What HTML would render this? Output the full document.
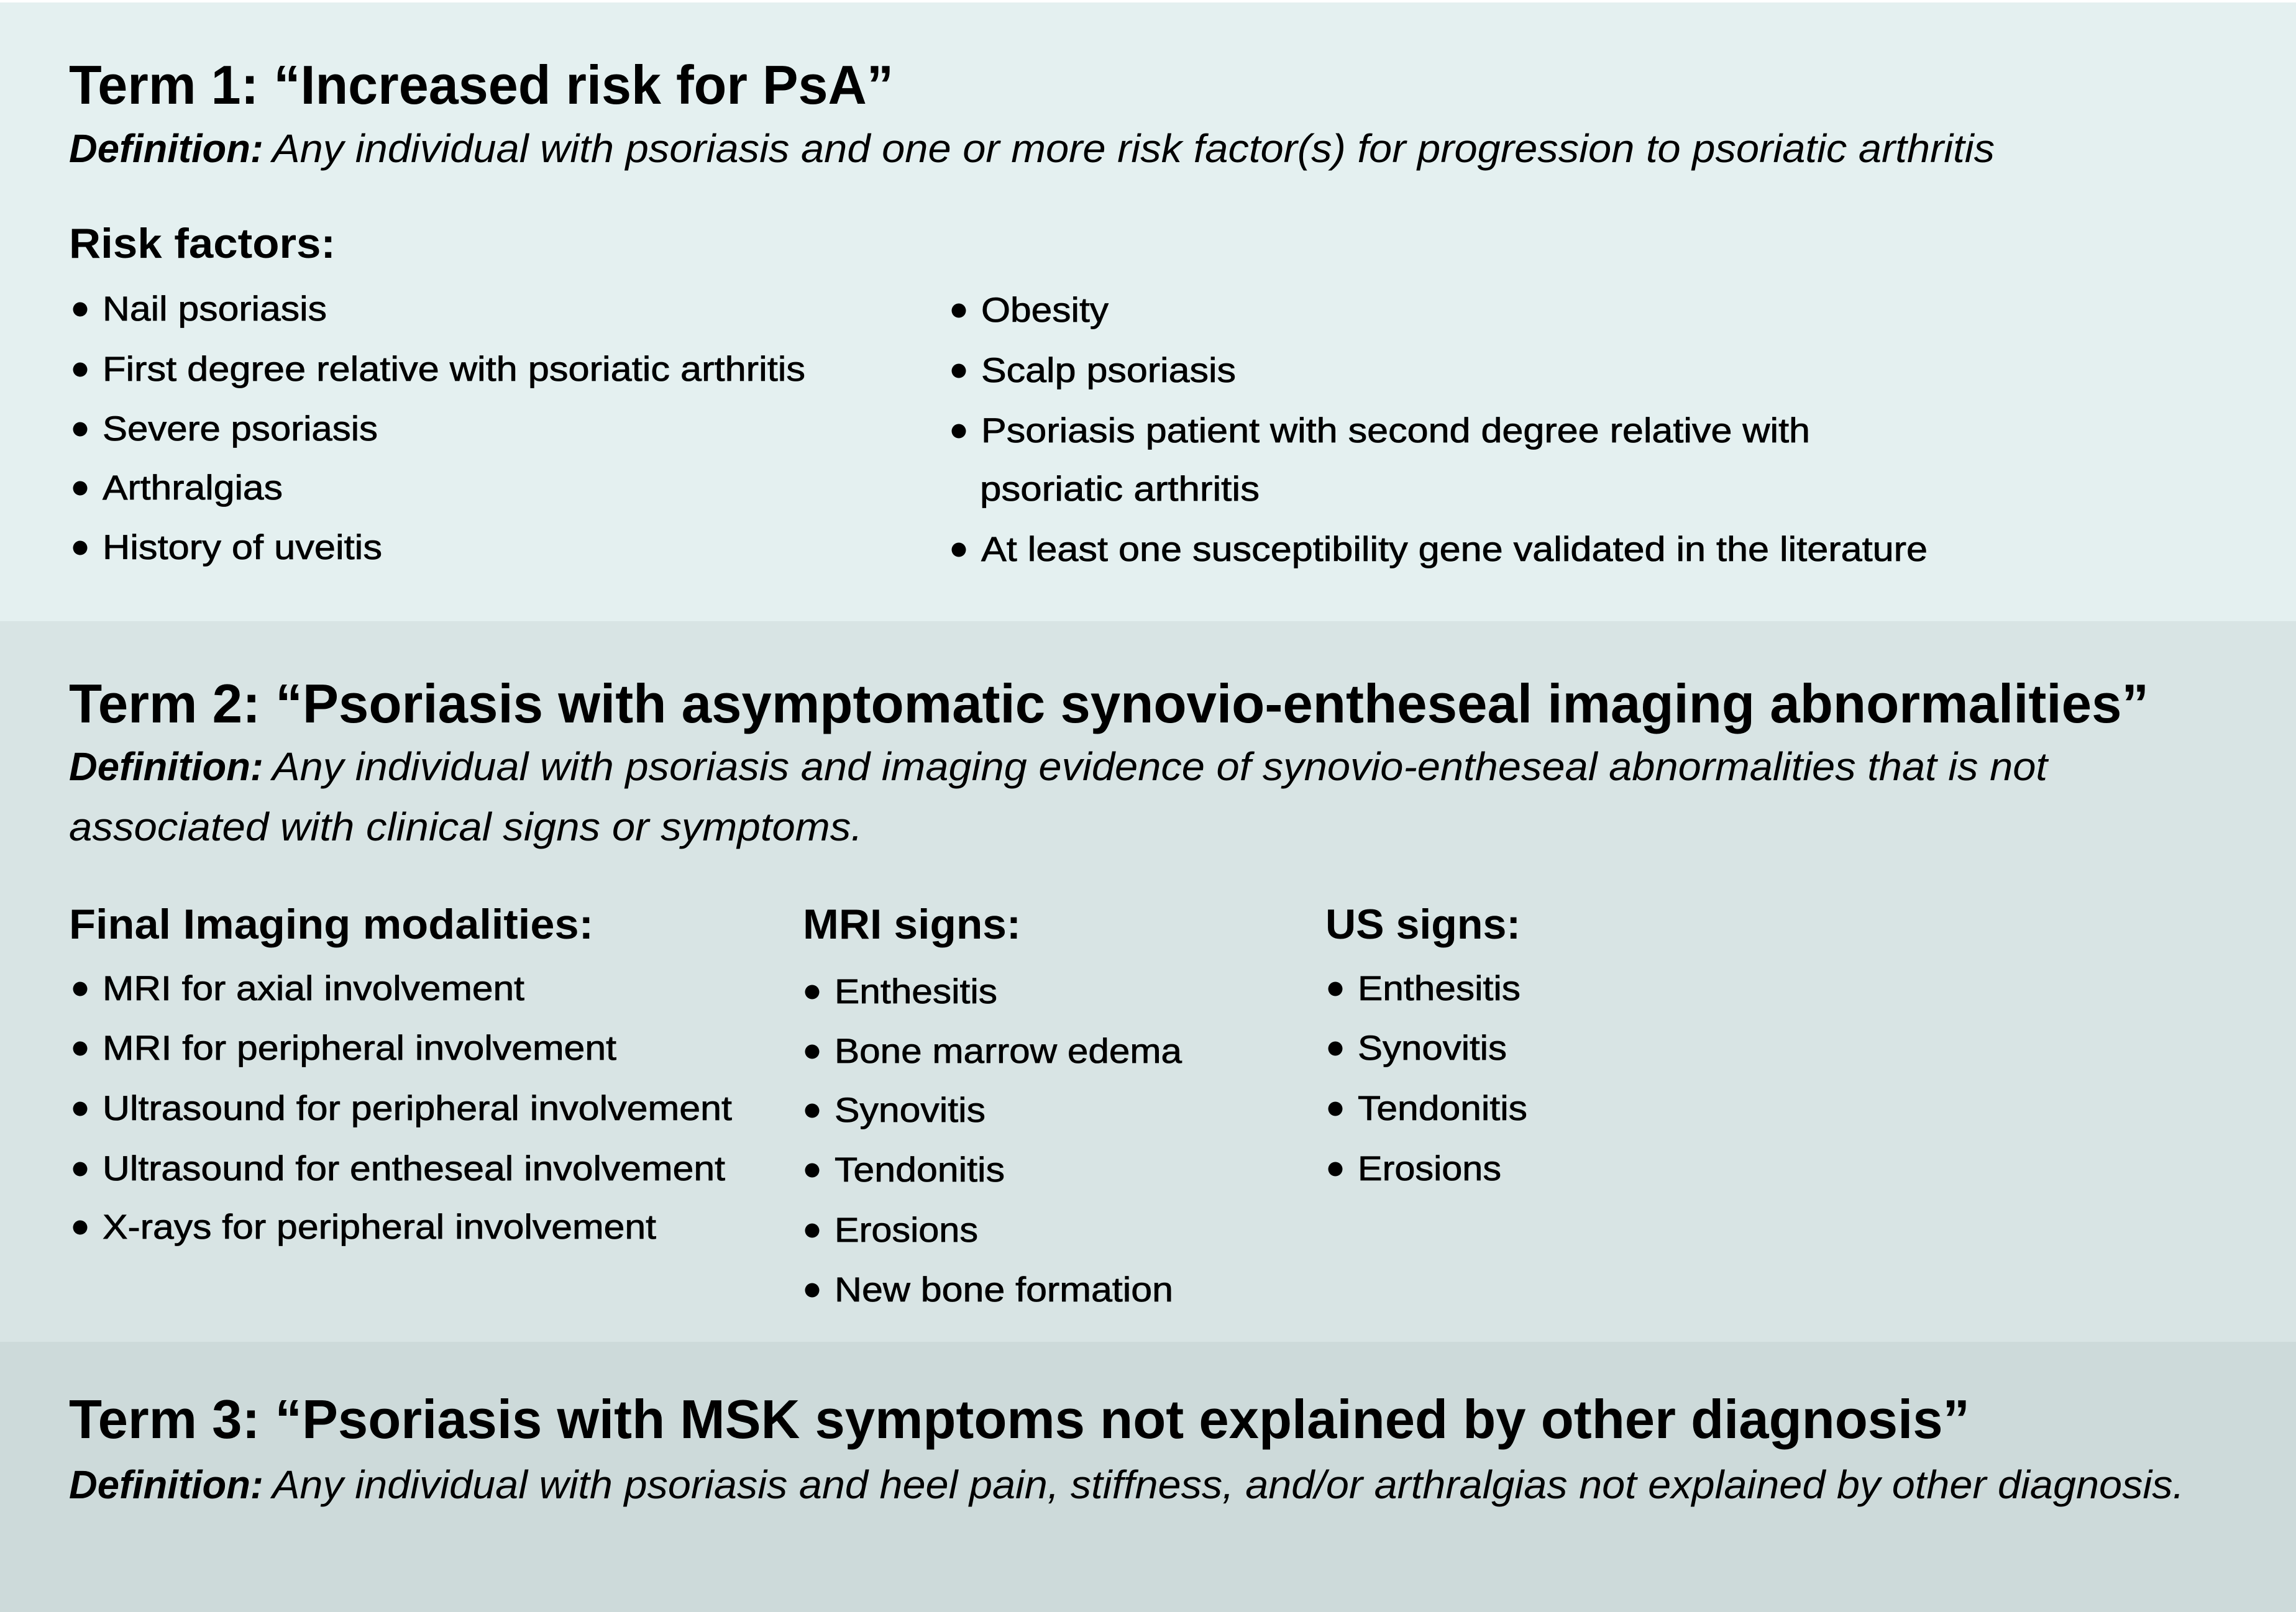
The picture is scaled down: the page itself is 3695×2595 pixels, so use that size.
<!DOCTYPE html>
<html><head><meta charset="utf-8"><style>html,body{margin:0;padding:0;background:#fff}svg{display:block}</style></head><body>
<svg xmlns="http://www.w3.org/2000/svg" width="3695" height="2595" viewBox="0 0 3695 2595" font-family="Liberation Sans, Arial, sans-serif" fill="#000">
<rect x="0" y="0" width="3695" height="2595" fill="#ffffff"/>
<rect x="0" y="4" width="3695" height="996" fill="#e4f0f0"/>
<rect x="0" y="1000" width="3695" height="1160" fill="#d8e4e4"/>
<rect x="0" y="2160" width="3695" height="435" fill="#cddada"/>
<text x="111" y="167" font-size="88" font-weight="bold" textLength="1327" lengthAdjust="spacingAndGlyphs">Term 1: “Increased risk for PsA”</text>
<text x="111" y="261" font-size="64" font-weight="bold" font-style="italic" textLength="313" lengthAdjust="spacingAndGlyphs">Definition:</text>
<text x="438" y="261" font-size="64" font-style="italic" textLength="2772" lengthAdjust="spacingAndGlyphs">Any individual with psoriasis and one or more risk factor(s) for progression to psoriatic arthritis</text>
<text x="111" y="415" font-size="68" font-weight="bold" textLength="429" lengthAdjust="spacingAndGlyphs">Risk factors:</text>
<g fill="#000">
<circle cx="129" cy="498" r="11.5"/><circle cx="129" cy="595" r="11.5"/><circle cx="129" cy="691" r="11.5"/><circle cx="129" cy="786" r="11.5"/><circle cx="129" cy="882" r="11.5"/>
<circle cx="1543" cy="500" r="11.5"/><circle cx="1543" cy="597" r="11.5"/><circle cx="1543" cy="694" r="11.5"/><circle cx="1543" cy="885" r="11.5"/>
<circle cx="129" cy="1592" r="11.5"/><circle cx="129" cy="1688" r="11.5"/><circle cx="129" cy="1785" r="11.5"/><circle cx="129" cy="1882" r="11.5"/><circle cx="129" cy="1976" r="11.5"/>
<circle cx="1307" cy="1597" r="11.5"/><circle cx="1307" cy="1693" r="11.5"/><circle cx="1307" cy="1788" r="11.5"/><circle cx="1307" cy="1884" r="11.5"/><circle cx="1307" cy="1981" r="11.5"/><circle cx="1307" cy="2077" r="11.5"/>
<circle cx="2149" cy="1592" r="11.5"/><circle cx="2149" cy="1688" r="11.5"/><circle cx="2149" cy="1785" r="11.5"/><circle cx="2149" cy="1882" r="11.5"/>
</g>
<g font-size="56" stroke="#000" stroke-width="0.8">
<text x="165" y="516" textLength="361" lengthAdjust="spacingAndGlyphs">Nail psoriasis</text>
<text x="165" y="613" textLength="1131" lengthAdjust="spacingAndGlyphs">First degree relative with psoriatic arthritis</text>
<text x="165" y="709" textLength="443" lengthAdjust="spacingAndGlyphs">Severe psoriasis</text>
<text x="165" y="804" textLength="290" lengthAdjust="spacingAndGlyphs">Arthralgias</text>
<text x="165" y="900" textLength="450" lengthAdjust="spacingAndGlyphs">History of uveitis</text>
<text x="1579" y="518" textLength="205" lengthAdjust="spacingAndGlyphs">Obesity</text>
<text x="1579" y="615" textLength="410" lengthAdjust="spacingAndGlyphs">Scalp psoriasis</text>
<text x="1579" y="712" textLength="1334" lengthAdjust="spacingAndGlyphs">Psoriasis patient with second degree relative with</text>
<text x="1577" y="806" textLength="450" lengthAdjust="spacingAndGlyphs">psoriatic arthritis</text>
<text x="1579" y="903" textLength="1523" lengthAdjust="spacingAndGlyphs">At least one susceptibility gene validated in the literature</text>
</g>
<text x="111" y="1163" font-size="88" font-weight="bold" textLength="3347" lengthAdjust="spacingAndGlyphs">Term 2: “Psoriasis with asymptomatic synovio-entheseal imaging abnormalities”</text>
<text x="111" y="1256" font-size="64" font-weight="bold" font-style="italic" textLength="313" lengthAdjust="spacingAndGlyphs">Definition:</text>
<text x="438" y="1256" font-size="64" font-style="italic" textLength="2857" lengthAdjust="spacingAndGlyphs">Any individual with psoriasis and imaging evidence of synovio-entheseal abnormalities that is not</text>
<text x="111" y="1353" font-size="64" font-style="italic" textLength="1277" lengthAdjust="spacingAndGlyphs">associated with clinical signs or symptoms.</text>
<text x="111" y="1511" font-size="68" font-weight="bold" textLength="844" lengthAdjust="spacingAndGlyphs">Final Imaging modalities:</text>
<text x="1292" y="1511" font-size="68" font-weight="bold" textLength="351" lengthAdjust="spacingAndGlyphs">MRI signs:</text>
<text x="2133" y="1511" font-size="68" font-weight="bold" textLength="314" lengthAdjust="spacingAndGlyphs">US signs:</text>
<g font-size="56" stroke="#000" stroke-width="0.8">
<text x="165" y="1610" textLength="679" lengthAdjust="spacingAndGlyphs">MRI for axial involvement</text>
<text x="165" y="1706" textLength="827" lengthAdjust="spacingAndGlyphs">MRI for peripheral involvement</text>
<text x="165" y="1803" textLength="1013" lengthAdjust="spacingAndGlyphs">Ultrasound for peripheral involvement</text>
<text x="165" y="1900" textLength="1002" lengthAdjust="spacingAndGlyphs">Ultrasound for entheseal involvement</text>
<text x="165" y="1994" textLength="891" lengthAdjust="spacingAndGlyphs">X-rays for peripheral involvement</text>
<text x="1343" y="1615" textLength="262" lengthAdjust="spacingAndGlyphs">Enthesitis</text>
<text x="1343" y="1711" textLength="559" lengthAdjust="spacingAndGlyphs">Bone marrow edema</text>
<text x="1343" y="1806" textLength="243" lengthAdjust="spacingAndGlyphs">Synovitis</text>
<text x="1343" y="1902" textLength="274" lengthAdjust="spacingAndGlyphs">Tendonitis</text>
<text x="1343" y="1999" textLength="231" lengthAdjust="spacingAndGlyphs">Erosions</text>
<text x="1343" y="2095" textLength="545" lengthAdjust="spacingAndGlyphs">New bone formation</text>
<text x="2185" y="1610" textLength="262" lengthAdjust="spacingAndGlyphs">Enthesitis</text>
<text x="2185" y="1706" textLength="240" lengthAdjust="spacingAndGlyphs">Synovitis</text>
<text x="2185" y="1803" textLength="273" lengthAdjust="spacingAndGlyphs">Tendonitis</text>
<text x="2185" y="1900" textLength="231" lengthAdjust="spacingAndGlyphs">Erosions</text>
</g>
<text x="111" y="2315" font-size="88" font-weight="bold" textLength="3059" lengthAdjust="spacingAndGlyphs">Term 3: “Psoriasis with MSK symptoms not explained by other diagnosis”</text>
<text x="111" y="2412" font-size="64" font-weight="bold" font-style="italic" textLength="313" lengthAdjust="spacingAndGlyphs">Definition:</text>
<text x="438" y="2412" font-size="64" font-style="italic" textLength="3077" lengthAdjust="spacingAndGlyphs">Any individual with psoriasis and heel pain, stiffness, and/or arthralgias not explained by other diagnosis.</text>
</svg>
</body></html>
